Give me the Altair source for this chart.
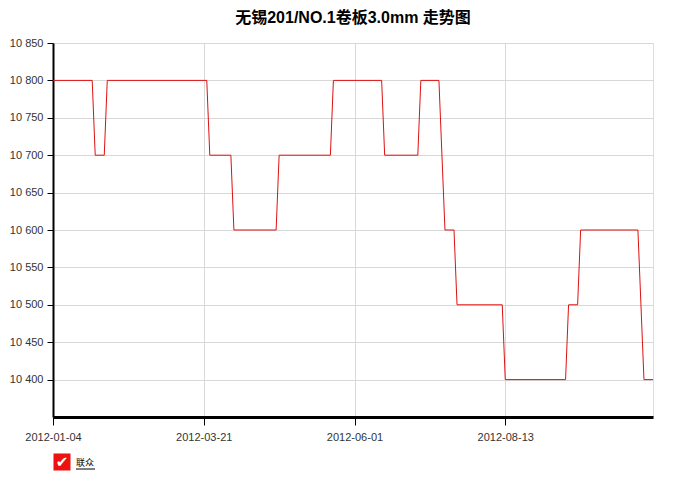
import altair as alt
import pandas as pd

# Change points of the series (trading-day index, price)
day_index = [0, 13, 14, 17, 18, 51, 52, 59, 60, 74, 75, 92, 93, 109, 110, 121, 122,
             128, 130, 133, 134, 149, 150, 170, 171, 174, 175, 194, 196, 199]
price = [10800, 10800, 10700, 10700, 10800, 10800, 10700, 10700, 10600, 10600,
         10700, 10700, 10800, 10800, 10700, 10700, 10800, 10800, 10600, 10600,
         10500, 10500, 10400, 10400, 10500, 10500, 10600, 10600, 10400, 10400]

tick_positions = [0, 50, 100, 150]
tick_labels = ["2012-01-04", "2012-03-21", "2012-06-01", "2012-08-13"]
y_ticks = [10400, 10450, 10500, 10550, 10600, 10650, 10700, 10750, 10800, 10850]

title_text = "无锡201/NO.1卷板3.0mm 走势图"
series_name = "联众"

df = pd.DataFrame({"i": day_index, "price": price})

W, H = 600, 374
FONT = "Liberation Sans"

label_map = "{" + ",".join(f"'{p}':'{l}'" for p, l in zip(tick_positions, tick_labels)) + "}"

x_enc = alt.X(
    "i:Q",
    scale=alt.Scale(domain=[0, 199], nice=False, zero=False),
    axis=alt.Axis(
        values=tick_positions,
        labelExpr=f"{label_map}[''+datum.value]",
        title=None,
        labelFlush=False,
        domainColor="black", domainWidth=3,
        tickColor="black", tickSize=8, tickWidth=1,
        labelFont=FONT, labelFontSize=11, labelColor="#333333", labelPadding=6,
        gridColor="#d8d8d8", gridWidth=1,
    ),
)
y_enc = alt.Y(
    "price:Q",
    scale=alt.Scale(domain=[10350, 10850], nice=False, zero=False),
    axis=alt.Axis(
        values=y_ticks,
        labelExpr="replace(format(datum.value, ','), ',', ' ')",
        title=None,
        labelFlush=False,
        domainColor="black", domainWidth=2,
        tickColor="black", tickSize=6, tickWidth=1,
        labelFont=FONT, labelFontSize=11, labelColor="#333333", labelPadding=4,
        gridColor="#d8d8d8", gridWidth=1,
    ),
)

line = alt.Chart(df).mark_line(color="#dd1111", strokeWidth=1, interpolate="linear").encode(
    x=x_enc, y=y_enc
)

legend_src = pd.DataFrame({"name": [series_name]})
box = alt.Chart(legend_src).mark_square(color="#ee1111", size=290, opacity=1, clip=False, cornerRadius=2).encode(
    x=alt.value(9), y=alt.value(419)
)
check = alt.Chart(legend_src).mark_text(
    text="✔", color="white", fontSize=15, font="DejaVu Sans", clip=False, baseline="middle", align="center"
).encode(x=alt.value(9), y=alt.value(419))
label = alt.Chart(legend_src).mark_text(
    color="black", fontSize=9, font="Noto Sans CJK SC", clip=False, align="left", baseline="middle"
).encode(text="name:N", x=alt.value(23), y=alt.value(420))
underline = alt.Chart(legend_src).mark_rule(color="black", strokeWidth=1, clip=False).encode(
    x=alt.value(23), x2=alt.value(42), y=alt.value(426)
)

chart = alt.layer(line, box, check, label, underline).properties(
    width=W,
    height=H,
    title=alt.TitleParams(
        title_text, font="Liberation Sans, Noto Sans CJK SC", fontSize=16, fontWeight="bold",
        color="black", anchor="middle", offset=11,
    ),
    padding={"left": 45, "top": 35, "right": 24, "bottom": 54},
    autosize=alt.AutoSizeParams(type="none"),
).configure_view(stroke=None).configure(background="white")

chart.save("out.html", embed_options={"renderer": "svg", "actions": False})
